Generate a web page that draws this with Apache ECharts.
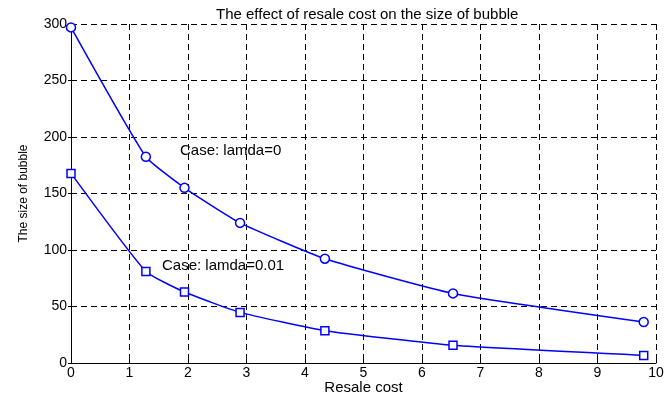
<!DOCTYPE html>
<html>
<head>
<meta charset="utf-8">
<script src="https://cdn.jsdelivr.net/npm/echarts@6/dist/echarts.min.js"></script>
<style>
  html, body { margin: 0; padding: 0; background: #fff; }
  #chart { width: 671px; height: 396px; }
</style>
</head>
<body>
<div id="chart"></div>
<script>
// Resale cost values at which the bubble size was evaluated
var resaleCost = [0, 1.28, 1.94, 2.89, 4.34, 6.53, 9.79];
// Bubble size for lamda = 0
var sizeLamda0 = [297, 182.5, 155, 124, 92.3, 61.6, 36.3];
// Bubble size for lamda = 0.01
var sizeLamda001 = [167.8, 81, 62.8, 44.8, 28.6, 15.6, 6.7];
// Axis ticks
var xTicks = [0, 1, 2, 3, 4, 5, 6, 7, 8, 9, 10];
var yTicks = [0, 50, 100, 150, 200, 250, 300];

function pairs(xs, ys) {
  return xs.map(function (x, i) { return [x, ys[i]]; });
}

var FONT = '"Liberation Sans", Arial, sans-serif';
var chart = echarts.init(document.getElementById('chart'), null, { renderer: 'canvas' });

var dashed = { show: true, lineStyle: { color: '#000', width: 1, type: [6, 4] } };

chart.setOption({
  animation: false,
  backgroundColor: '#fff',
  title: {
    text: 'The effect of resale cost on the size of bubble',
    left: 211,
    top: 2,
    textStyle: { fontFamily: FONT, fontSize: 15, fontWeight: 'normal', color: '#000' }
  },
  grid: { left: 71, right: 15, top: 24, bottom: 33, containLabel: false, outerBoundsMode: 'none' },
  xAxis: {
    type: 'value',
    min: xTicks[0],
    max: xTicks[xTicks.length - 1],
    interval: 1,
    name: 'Resale cost',
    nameLocation: 'middle',
    nameGap: 17,
    nameMoveOverlap: false,
    nameTextStyle: { fontFamily: FONT, fontSize: 15, color: '#000' },
    axisLine: { show: true, onZero: false, lineStyle: { color: '#000', width: 1 } },
    axisTick: { show: true, inside: true, length: 5, lineStyle: { color: '#000' } },
    axisLabel: { fontFamily: FONT, fontSize: 14, color: '#000', margin: 3 },
    splitLine: dashed
  },
  yAxis: {
    type: 'value',
    min: yTicks[0],
    max: yTicks[yTicks.length - 1],
    interval: 50,
    name: 'The size of bubble',
    nameLocation: 'middle',
    nameGap: 41,
    nameMoveOverlap: false,
    nameTextStyle: { fontFamily: FONT, fontSize: 12, color: '#000' },
    axisLine: { show: true, onZero: false, lineStyle: { color: '#000', width: 1 } },
    axisTick: { show: true, inside: false, length: 3, lineStyle: { color: '#000' } },
    axisLabel: { fontFamily: FONT, fontSize: 14, color: '#000', margin: 4 },
    splitLine: dashed
  },
  series: [
    {
      name: 'lamda=0',
      type: 'line',
      data: pairs(resaleCost, sizeLamda0),
      smooth: 0.15,
      symbol: 'circle',
      symbolSize: 9,
      showAllSymbol: true,
      lineStyle: { color: '#0000ff', width: 1.5 },
      itemStyle: { color: '#fff', borderColor: '#0000ff', borderWidth: 1.5 },
      z: 3
    },
    {
      name: 'lamda=0.01',
      type: 'line',
      data: pairs(resaleCost, sizeLamda001),
      smooth: 0.15,
      symbol: 'rect',
      symbolSize: 8,
      showAllSymbol: true,
      lineStyle: { color: '#0000ff', width: 1.5 },
      itemStyle: { color: '#fff', borderColor: '#0000ff', borderWidth: 1.5 },
      z: 3
    }
  ],
  graphic: [
    {
      type: 'text', left: 180, top: 143,
      style: { text: 'Case: lamda=0', font: '15px ' + FONT, fill: '#000' }
    },
    {
      type: 'text', left: 162, top: 258,
      style: { text: 'Case: lamda=0.01', font: '15px ' + FONT, fill: '#000' }
    }
  ]
});
</script>
</body>
</html>
